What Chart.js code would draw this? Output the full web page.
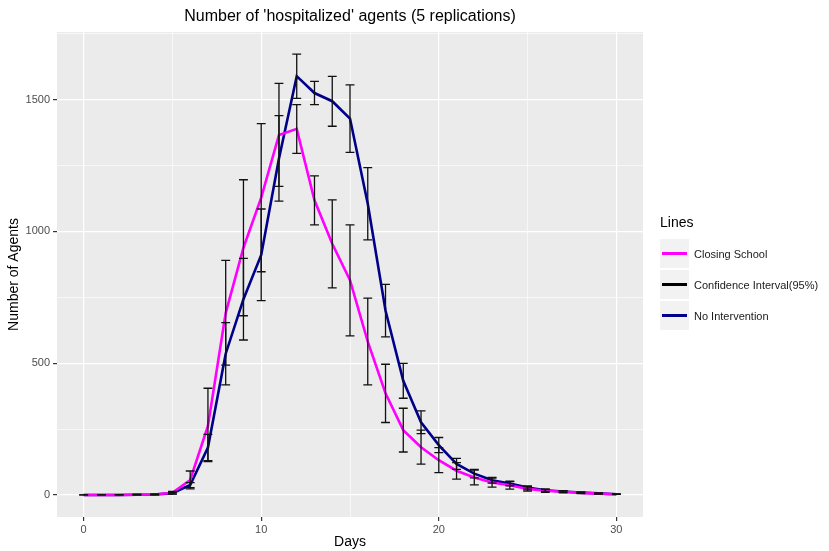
<!DOCTYPE html>
<html>
<head>
<meta charset="utf-8">
<script src="https://cdn.jsdelivr.net/npm/chart.js@4.4.1/dist/chart.umd.min.js"></script>
<style>
  body { margin: 0; background: #fff; }
  #wrap { position: relative; width: 829px; height: 551px; }
  #legend { position: absolute; left: 660px; top: 214px; font-family: 'Liberation Sans', Arial, sans-serif; }
  #legend .ttl { font-size: 14px; color: #000; height: 24px; }
  #legend .row { display: flex; align-items: center; height: 31px; }
  #legend .key { width: 29px; height: 29px; background: #F2F2F2; position: relative; margin-right: 5px; }
  #legend .key span { position: absolute; left: 2px; right: 2px; top: 13px; height: 3px; }
  #legend .lbl { font-size: 11px; color: #1a1a1a; }
</style>
</head>
<body>
<div id="wrap">
  <canvas id="chart" width="829" height="551"></canvas>
  <div id="legend"></div>
</div>
<script>
// 日数
const days = [0, 1, 2, 3, 4, 5, 6, 7, 8, 9, 10, 11, 12, 13, 14, 15, 16, 17, 18, 19, 20, 21, 22, 23, 24, 25, 26, 27, 28, 29, 30];
// Closing School 平均と95%信頼区間
const closingMean = [0, 0, 0, 1, 2, 8, 57, 262, 690, 938, 1128, 1366, 1389, 1118, 953, 815, 582, 386, 246, 181, 132, 92, 66, 47, 37, 23, 16, 12, 8, 5, 3];
const closingLow = [0, 0, 0, 0, 0, 3, 23, 127, 493, 680, 847, 1171, 1296, 1025, 786, 604, 418, 275, 163, 117, 85, 60, 38, 30, 22, 15, 10, 8, 5, 3, 2];
const closingHigh = [0, 0, 1, 2, 3, 14, 91, 405, 890, 1196, 1409, 1562, 1481, 1211, 1120, 1025, 747, 496, 329, 246, 180, 123, 94, 64, 52, 32, 22, 16, 11, 7, 4];
// No Intervention 平均と95%信頼区間
const noIntMean = [0, 0, 0, 1, 2, 7, 38, 180, 536, 743, 911, 1277, 1589, 1525, 1494, 1428, 1105, 700, 433, 276, 189, 118, 81, 56, 43, 28, 18, 13, 9, 6, 3];
const noIntLow = [0, 0, 0, 0, 1, 4, 28, 130, 418, 588, 737, 1115, 1505, 1481, 1399, 1300, 968, 600, 367, 233, 161, 97, 65, 45, 35, 22, 14, 10, 7, 4, 2];
const noIntHigh = [0, 0, 1, 2, 3, 10, 47, 230, 654, 898, 1085, 1439, 1673, 1569, 1588, 1556, 1242, 799, 499, 319, 218, 139, 97, 67, 51, 34, 22, 16, 11, 8, 4];
// 目盛り
const xTicks = [0, 5, 10, 15, 20, 25, 30];
const yTicks = [0, 250, 500, 750, 1000, 1250, 1500, 1750];
const xMajor = [0, 10, 20, 30];
const yMajor = [0, 500, 1000, 1500];

const legendItems = [
  { label: 'Closing School', color: '#FF00FF' },
  { label: 'Confidence Interval(95%)', color: '#000000' },
  { label: 'No Intervention', color: '#00008B' },
];

const FONT = "'Liberation Sans', Arial, sans-serif";

function toPoints(ys) {
  return days.map((d, i) => ({ x: d, y: ys[i] }));
}

//パネル背景とタイトル
const panel = {
  id: 'panel',
  beforeDraw(chart) {
    const { ctx, chartArea: { left, top, width, height } } = chart;
    ctx.save();
    ctx.fillStyle = '#EBEBEB';
    ctx.fillRect(left, top, width, height);
    ctx.restore();
  },
  afterDraw(chart) {
    const { ctx, chartArea: { left, right } } = chart;
    ctx.save();
    ctx.fillStyle = '#000';
    ctx.font = '16px ' + FONT;
    ctx.textAlign = 'center';
    ctx.textBaseline = 'middle';
    ctx.fillText("Number of 'hospitalized' agents (5 replications)", (left + right) / 2, 17);
    ctx.restore();
  },
};

//エラーバー
const errorBars = {
  id: 'errorBars',
  afterDatasetsDraw(chart) {
    const { ctx, scales: { x, y } } = chart;
    ctx.save();
    ctx.strokeStyle = '#111';
    ctx.lineWidth = 1.3;
    const cap = 0.25;
    [[closingLow, closingHigh], [noIntLow, noIntHigh]].forEach(function (pair) {
      days.forEach(function (d, i) {
        const px = x.getPixelForValue(d);
        const x0 = x.getPixelForValue(d - cap);
        const x1 = x.getPixelForValue(d + cap);
        const yl = y.getPixelForValue(pair[0][i]);
        const yh = y.getPixelForValue(pair[1][i]);
        ctx.beginPath();
        ctx.moveTo(px, yl);
        ctx.lineTo(px, yh);
        ctx.moveTo(x0, yl);
        ctx.lineTo(x1, yl);
        ctx.moveTo(x0, yh);
        ctx.lineTo(x1, yh);
        ctx.stroke();
      });
    });
    ctx.restore();
  },
};

function gridOpts(major) {
  return {
    color: '#FFFFFF',
    lineWidth: (c) => (major.includes(c.tick.value) ? 1.2 : 0.6),
    tickColor: (c) => (major.includes(c.tick.value) ? '#333333' : 'rgba(0,0,0,0)'),
    tickLength: 4,
  };
}

const config = {
  type: 'line',
  data: {
    datasets: [
      {
        label: 'Closing School',
        data: toPoints(closingMean),
        borderColor: '#FF00FF',
        borderWidth: 2.6,
        pointRadius: 0,
        tension: 0,
      },
      {
        label: 'No Intervention',
        data: toPoints(noIntMean),
        borderColor: '#00008B',
        borderWidth: 2.6,
        pointRadius: 0,
        tension: 0,
      },
    ],
  },
  options: {
    responsive: false,
    animation: false,
    layout: { padding: { left: 0, top: 32, right: 186, bottom: 0 } },
    plugins: {
      legend: { display: false },
      tooltip: { enabled: false },
    },
    scales: {
      x: {
        type: 'linear',
        min: -1.5,
        max: 31.5,
        afterBuildTicks: (s) => { s.ticks = xTicks.map((v) => ({ value: v })); },
        afterFit: (s) => { s.height = 34; },
        grid: gridOpts(xMajor),
        border: { display: false },
        ticks: {
          color: '#4D4D4D',
          font: { family: FONT, size: 11 },
          padding: 2,
          maxRotation: 0,
          callback: (v) => (xMajor.includes(v) ? String(v) : ''),
        },
        title: {
          display: true,
          text: 'Days',
          color: '#000',
          font: { family: FONT, size: 14 },
          padding: { top: 0, bottom: 0 },
        },
      },
      y: {
        min: -83.6,
        max: 1756.6,
        afterBuildTicks: (s) => { s.ticks = yTicks.map((v) => ({ value: v })); },
        afterFit: (s) => { s.width = 57; },
        grid: gridOpts(yMajor),
        border: { display: false },
        ticks: {
          color: '#4D4D4D',
          font: { family: FONT, size: 11 },
          padding: 3,
          callback: (v) => (yMajor.includes(v) ? String(v) : ''),
        },
        title: {
          display: true,
          text: 'Number of Agents',
          color: '#000',
          font: { family: FONT, size: 14 },
          padding: { top: 6, bottom: 0 },
        },
      },
    },
  },
  plugins: [panel, errorBars],
};

//描画
new Chart(document.getElementById('chart'), config);

//凡例
const legend = document.getElementById('legend');
let html = '<div class="ttl">Lines</div>';
legendItems.forEach(function (item) {
  html += '<div class="row"><div class="key"><span style="background:' + item.color +
    '"></span></div><div class="lbl">' + item.label + '</div></div>';
});
legend.innerHTML = html;
</script>
</body>
</html>
